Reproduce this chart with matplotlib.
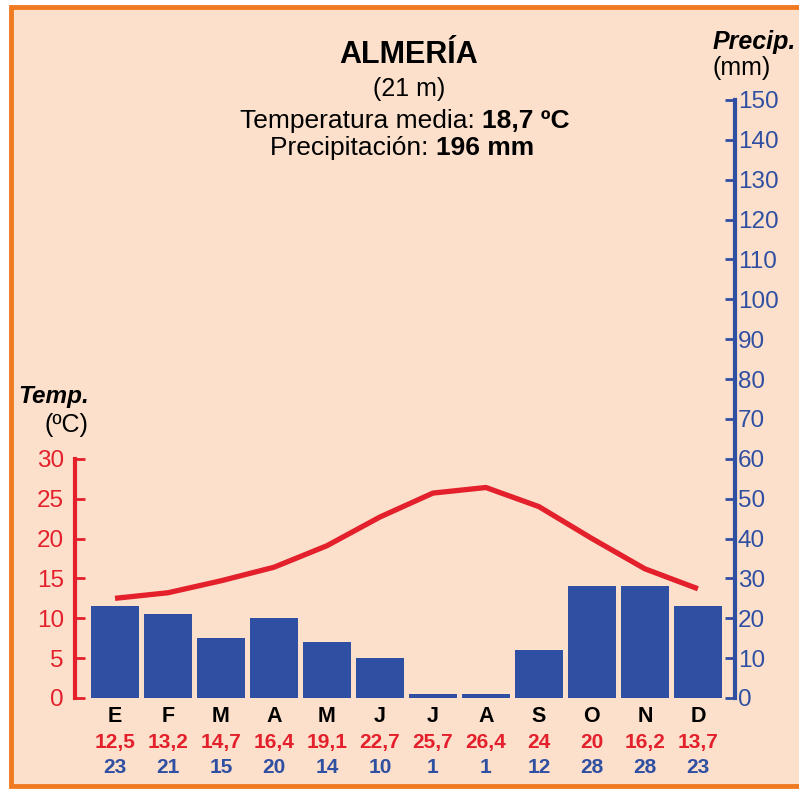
import matplotlib
matplotlib.use("Agg")
import matplotlib.pyplot as plt
from matplotlib.patches import Rectangle
from matplotlib.transforms import blended_transform_factory

months = ["E", "F", "M", "A", "M", "J", "J", "A", "S", "O", "N", "D"]
temps = [12.5, 13.2, 14.7, 16.4, 19.1, 22.7, 25.7, 26.4, 24, 20, 16.2, 13.7]
temp_labels = ["12,5", "13,2", "14,7", "16,4", "19,1", "22,7", "25,7", "26,4", "24", "20", "16,2", "13,7"]
precip = [23, 21, 15, 20, 14, 10, 1, 1, 12, 28, 28, 23]
temp_ticks = [0, 5, 10, 15, 20, 25, 30]
precip_ticks = list(range(0, 151, 10))

W, H = 799, 789
RED = "#E3202B"
BLUE = "#2F4FA2"
BG = "#FCE0CB"
ORANGE = "#F07A22"

plt.rcParams["font.family"] = ["Liberation Sans", "DejaVu Sans"]

fig = plt.figure(figsize=(W / 100, H / 100), dpi=100, facecolor="white")


def fx(px):
    return px / W


def fy(py):
    return 1 - py / H


# background panel with orange border
fig.patches.append(Rectangle((fx(11), fy(786)), fx(830) - fx(11), fy(7) - fy(786),
                             transform=fig.transFigure, facecolor=BG, edgecolor=ORANGE,
                             linewidth=3.5, zorder=-5))

ax_l, ax_r, ax_b, ax_t = 75, 735, 698, 100
ax = fig.add_axes([fx(ax_l), fy(ax_b), fx(ax_r) - fx(ax_l), fy(ax_t) - fy(ax_b)])
ax2 = ax.twinx()

x = list(range(12))

# precipitation bars (right axis)
ax2.bar(x, precip, width=0.9, color=BLUE, zorder=2)
ax2.set_ylim(0, 150)
ax2.set_yticks(precip_ticks)
ax2.tick_params(axis="y", colors=BLUE, direction="in", length=7, width=2,
                labelsize=17.5, pad=2)
ax2.spines["right"].set_color(BLUE)
ax2.spines["right"].set_linewidth(3)
ax2.spines["right"].set_bounds(0, 150)
for s in ["top", "left", "bottom"]:
    ax2.spines[s].set_visible(False)

# temperature line (left axis)
ax.plot(x, temps, color=RED, linewidth=3.8, solid_capstyle="butt", zorder=3)
ax.set_ylim(0, 75)
ax.set_yticks(temp_ticks)
ax.tick_params(axis="y", colors=RED, direction="in", length=7, width=2,
               labelsize=17.5, pad=8)
ax.spines["left"].set_color(RED)
ax.spines["left"].set_linewidth(3)
ax.spines["left"].set_bounds(0, 30)
for s in ["top", "right", "bottom"]:
    ax.spines[s].set_visible(False)
ax.set_xlim(-0.755, 11.70)
ax.set_xticks([])
ax.set_zorder(ax2.get_zorder() + 1)
ax.patch.set_visible(False)
ax2.patch.set_visible(False)

# month labels and values
tr = blended_transform_factory(ax.transData, fig.transFigure)
for i in range(12):
    ax.text(i, fy(722), months[i], transform=tr, ha="center", va="baseline",
            fontsize=15.5, fontweight="bold", color="black")
    ax.text(i, fy(748), temp_labels[i], transform=tr, ha="center", va="baseline",
            fontsize=15, fontweight="bold", color=RED)
    ax.text(i, fy(773), str(precip[i]), transform=tr, ha="center", va="baseline",
            fontsize=15, fontweight="bold", color=BLUE)

# titles
fig.text(fx(409), fy(63), "ALMERÍA", ha="center", va="baseline", fontsize=22, fontweight="bold")
fig.text(fx(409), fy(96), "(21 m)", ha="center", va="baseline", fontsize=18)
fig.text(fx(482), fy(128), "Temperatura media: ", ha="right", va="baseline", fontsize=19)
fig.text(fx(482), fy(128), "18,7 ºC", ha="left", va="baseline", fontsize=19, fontweight="bold")
fig.text(fx(436), fy(155), "Precipitación: ", ha="right", va="baseline", fontsize=19)
fig.text(fx(436), fy(155), "196 mm", ha="left", va="baseline", fontsize=19, fontweight="bold")

# axis titles
fig.text(fx(713), fy(49), "Precip.", ha="left", va="baseline", fontsize=18,
         fontweight="bold", fontstyle="italic")
fig.text(fx(713), fy(75), "(mm)", ha="left", va="baseline", fontsize=18)
fig.text(fx(18), fy(403), "Temp.", ha="left", va="baseline", fontsize=17.5,
         fontweight="bold", fontstyle="italic")
fig.text(fx(45), fy(432), "(ºC)", ha="left", va="baseline", fontsize=18)

fig.savefig("out.png", dpi=100, facecolor="white")
